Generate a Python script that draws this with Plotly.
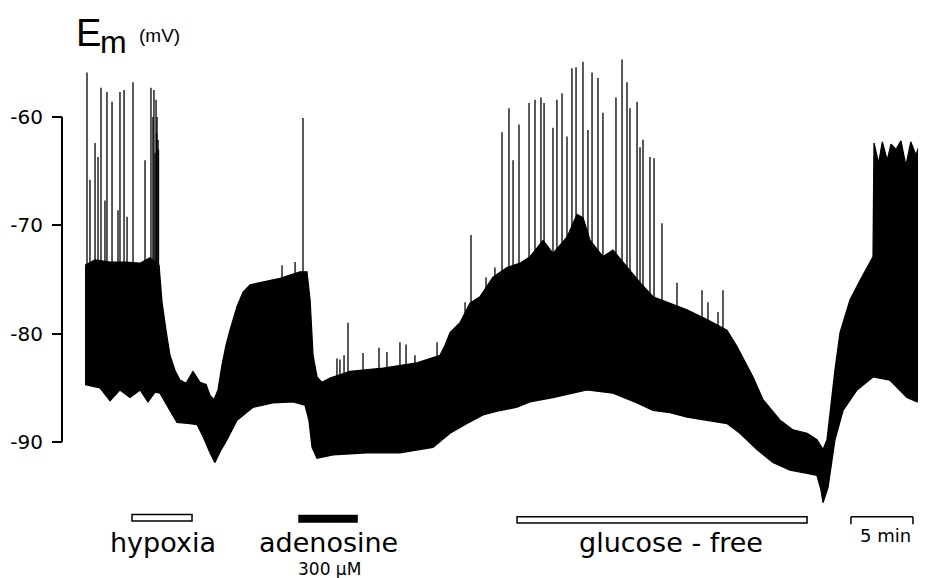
import numpy as np
import plotly.graph_objects as go

# ---- data read from the recording (time in min, membrane potential in mV) ----
upper_t = [0.0, 0.81, 2.02, 3.23, 4.44, 5.24, 5.97, 6.21, 6.53, 6.85, 7.26, 7.66, 8.15, 8.71,
           9.27, 9.76, 10.08, 10.40, 10.73, 11.05, 11.37, 11.69, 12.26, 12.74, 13.31, 14.11,
           14.92, 15.73, 16.53, 17.34, 17.90, 18.15, 18.39, 18.71, 19.11, 19.76, 21.37, 24.03,
           26.77, 28.63, 29.03, 29.44, 30.24, 31.05, 31.85, 32.90, 34.03, 35.08, 35.89, 36.94,
           37.74, 38.87, 39.68, 40.16, 40.73, 41.77, 42.58, 43.71, 44.76, 45.81, 47.18, 48.55,
           50.16, 51.77, 52.58, 53.23, 53.87, 54.68, 56.05, 57.10, 58.23, 59.03, 59.52, 59.84,
           60.08, 60.48, 60.89, 61.69, 62.50, 63.55, 63.63, 64.0, 64.3, 64.7, 65.0, 65.4, 65.8,
           66.2, 66.6, 67.0, 67.3, 67.58]
upper_mv = [-73.7, -73.2, -73.4, -73.4, -73.5, -73.0, -73.7, -77.1, -79.7, -82.0, -83.4, -84.3,
            -84.6, -83.5, -84.5, -84.7, -85.7, -86.1, -85.2, -82.9, -81.1, -79.7, -77.5, -76.2,
            -75.5, -75.3, -75.1, -74.9, -74.6, -74.3, -74.3, -76.9, -82.0, -84.0, -84.5, -84.1,
            -83.5, -83.2, -82.7, -82.0, -81.1, -79.9, -79.0, -77.2, -76.6, -74.8, -73.9, -73.5,
            -72.9, -71.4, -72.6, -71.1, -69.0, -69.3, -71.4, -72.9, -72.3, -73.9, -75.3, -76.6,
            -77.2, -77.8, -78.7, -79.7, -81.2, -82.6, -84.0, -86.1, -88.0, -88.9, -89.2, -89.8,
            -90.7, -89.8, -87.3, -83.4, -79.9, -76.9, -75.1, -72.9, -62.4, -64.3, -62.3, -64.0,
            -62.5, -63.0, -62.2, -64.5, -62.3, -63.5, -62.6, -62.9]

lower_t = [0.0, 1.21, 2.02, 2.82, 3.63, 4.44, 5.08, 5.65, 6.05, 6.85, 7.42, 8.47, 9.03, 9.52,
           10.08, 10.48, 10.89, 11.45, 12.26, 13.55, 15.16, 16.77, 17.74, 18.06, 18.31, 18.71,
           20.0, 22.74, 25.40, 28.06, 29.44, 30.81, 32.10, 33.47, 34.84, 35.89, 37.74, 40.48,
           42.58, 44.52, 45.81, 47.18, 48.55, 50.16, 51.77, 52.82, 54.19, 55.48, 56.85, 58.23,
           59.03, 59.35, 59.52, 59.92, 60.48, 61.13, 62.26, 63.55, 64.92, 66.29, 67.10, 67.58]
lower_mv = [-84.7, -85.0, -86.2, -85.2, -85.9, -85.2, -86.3, -85.4, -85.5, -87.1, -88.2, -88.3,
            -88.4, -89.5, -91.0, -91.9, -90.9, -89.8, -88.0, -86.8, -86.4, -86.3, -86.6, -88.0,
            -90.5, -91.5, -91.2, -91.0, -91.0, -90.5, -89.2, -88.3, -87.5, -87.1, -86.8, -86.3,
            -85.9, -85.2, -85.5, -86.4, -87.1, -87.3, -87.7, -88.0, -88.3, -89.2, -90.7, -91.9,
            -92.6, -92.9, -93.1, -94.4, -95.6, -94.2, -89.8, -87.1, -85.2, -84.0, -84.3, -85.9,
            -86.3, -84.0]

spike_t = [0.16, 0.40, 0.81, 1.05, 1.29, 1.61, 1.77, 2.18, 2.66, 2.82, 3.15, 3.39, 3.87, 4.84,
           5.32, 5.48, 5.56, 5.65, 5.73, 5.77, 5.81, 5.89, 5.93,
           15.89, 16.94, 17.58,
           20.32, 20.56, 20.89, 21.21, 22.42, 23.71, 24.35, 25.40, 25.89, 26.61, 28.39, 29.27,
           30.65, 31.13, 32.34, 33.06, 33.63, 34.19, 34.52, 35.0, 35.81,
           36.29, 36.77, 37.02, 37.74, 38.06, 38.47, 38.87, 39.27, 39.60, 40.16, 40.56, 40.89,
           41.37, 41.77, 42.82, 43.31, 43.71, 43.95, 44.52, 44.76, 45.0, 45.56, 45.89, 46.53,
           47.74, 49.76, 50.24, 51.05, 51.45]
spike_peak = [-55.9, -65.8, -62.4, -63.7, -57.3, -67.7, -57.7, -58.6, -68.6, -57.7, -57.5, -69.2,
              -56.8, -64.0, -57.3, -60.0, -57.5, -63.3, -58.4, -61.5, -60.0, -62.1, -63.0,
              -73.7, -73.4, -60.1,
              -82.3, -82.4, -82.0, -79.0, -81.8, -81.3, -81.7, -80.8, -81.0, -82.0, -80.8, -80.4,
              -77.1, -70.9, -74.8, -73.9, -61.4, -59.2, -64.0, -60.7, -58.7,
              -58.4, -58.2, -58.7, -61.0, -58.4, -57.8, -61.8, -55.5, -55.4, -54.9, -61.2, -55.9,
              -56.4, -59.6, -58.2, -54.7, -56.8, -59.2, -58.6, -62.8, -62.1, -63.7, -63.8, -69.8,
              -75.3, -76.0, -77.1, -78.0, -76.0]

y_ticks = [-60, -70, -80, -90]
y_tick_labels = ["-60", "-70", "-80", "-90"]

treat_names = ["hypoxia", "adenosine", "glucose - free"]
treat_start = [3.79, 17.26, 34.84]
treat_end = [8.63, 21.94, 58.23]
treat_fill = ["white", "black", "white"]

scale_start = 61.77
scale_len = 5  # minutes

# ---- page geometry (the page body adds an 8 px margin) ----
PAGE_MARGIN = 8
W, H = 926 - PAGE_MARGIN, 578 - PAGE_MARGIN
PX_PER_MIN = 12.4
PX_PER_MV = 10.83
X0_PX = 85      # window px of t = 0
Y60_PX = 117    # window px of -60 mV
x_range = [(PAGE_MARGIN - X0_PX) / PX_PER_MIN, (926 - X0_PX) / PX_PER_MIN]
y_range = [-60 - (578 - Y60_PX) / PX_PER_MV, -60 - (PAGE_MARGIN - Y60_PX) / PX_PER_MV]

fig = go.Figure()

poly_t = upper_t + lower_t[::-1]
poly_mv = upper_mv + lower_mv[::-1]
fig.add_trace(go.Scatter(x=poly_t, y=poly_mv, mode="lines", fill="toself",
                         fillcolor="black", line=dict(color="black", width=1.3),
                         hoverinfo="skip", showlegend=False))

# spikes rise from inside the dense band up to their peak
base = np.interp(spike_t, upper_t, upper_mv)
sx, sy = [], []
for t, b, p in zip(spike_t, base, spike_peak):
    sx += [t, t, None]
    sy += [b - 0.8, p, None]
fig.add_trace(go.Scatter(x=sx, y=sy, mode="lines", line=dict(color="black", width=1.3),
                         hoverinfo="skip", showlegend=False))

shapes = []
axis_t = (62 - X0_PX) / PX_PER_MIN
shapes.append(dict(type="line", x0=axis_t, x1=axis_t, y0=y_ticks[0], y1=y_ticks[-1],
                   line=dict(color="black", width=2)))
bar_y = [(-96.7, -97.3), (-96.8, -97.4), (-96.9, -97.5)]
for s, e, f, (ya, yb) in zip(treat_start, treat_end, treat_fill, bar_y):
    shapes.append(dict(type="rect", x0=s, x1=e, y0=ya, y1=yb, fillcolor=f,
                       line=dict(color="black", width=1.5)))
sb_y = -96.9
shapes.append(dict(type="line", x0=scale_start, x1=scale_start + scale_len, y0=sb_y, y1=sb_y,
                   line=dict(color="black", width=1.5)))
for xx in (scale_start, scale_start + scale_len):
    shapes.append(dict(type="line", x0=xx, x1=xx, y0=sb_y, y1=sb_y - 0.7,
                       line=dict(color="black", width=1.5)))

label_font = dict(family="DejaVu Sans", size=27, color="black")
annotations = [
    dict(x=6.25, y=-99.33, text=treat_names[0], font=label_font),
    dict(x=19.64, y=-99.33, text=treat_names[1], font=label_font),
    dict(x=47.26, y=-99.33, text=treat_names[2], font=label_font),
    dict(x=19.68, y=-101.7, text="300 μM", font=dict(family="DejaVu Sans", size=17, color="black")),
    dict(x=64.56, y=-98.6, text=f"{scale_len} min", font=dict(family="DejaVu Sans", size=18, color="black")),
    dict(x=-0.89, y=-52.2, text="E", xanchor="left",
         font=dict(family="Liberation Sans", size=38, color="black")),
    dict(x=1.05, y=-53.1, text="m", xanchor="left",
         font=dict(family="Liberation Sans", size=32, color="black")),
    dict(x=4.19, y=-52.5, text="(mV)", xanchor="left",
         font=dict(family="Liberation Sans", size=19, color="black")),
]
for a in annotations:
    a["showarrow"] = False
    a.setdefault("xanchor", "center")
    a["yanchor"] = "middle"

fig.update_layout(
    width=W, height=H,
    margin=dict(l=0, r=0, t=0, b=0),
    paper_bgcolor="white", plot_bgcolor="white",
    shapes=shapes, annotations=annotations,
    xaxis=dict(visible=False, range=x_range, fixedrange=True),
    yaxis=dict(range=y_range, anchor="free", position=(62 - PAGE_MARGIN) / W,
               showgrid=False, zeroline=False, showline=False,
               ticks="outside", ticklen=10, tickwidth=2, tickcolor="black",
               tickvals=y_ticks, ticktext=y_tick_labels, ticklabelstandoff=5,
               tickfont=dict(family="DejaVu Sans", size=20, color="black"),
               automargin=False, fixedrange=True),
    showlegend=False,
)

fig.write_html("out.html")
